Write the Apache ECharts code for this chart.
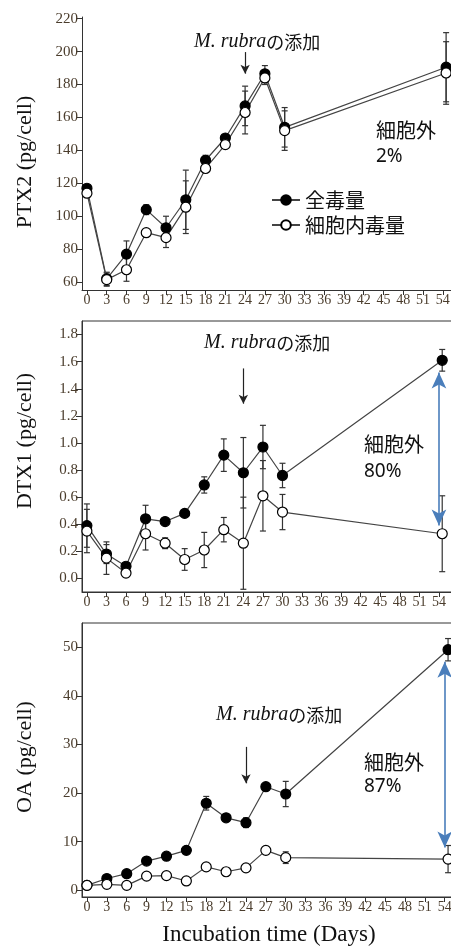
<!DOCTYPE html>
<html><head><meta charset="utf-8">
<script src="https://cdn.jsdelivr.net/npm/echarts@6/dist/echarts.min.js"></script>
<style>html,body{margin:0;padding:0;background:#fff}#c{width:451px;height:947px}</style>
</head><body><div id="c"></div>
<script>
const days = [0, 3, 6, 9, 12, 15, 18, 21, 24, 27, 30, 54.5];
const xTickValues = [0,3,6,9,12,15,18,21,24,27,30,33,36,39,42,45,48,51,54];

const ptx2Total    = [117, 62, 77, 104, 93, 110, 134, 147.5, 167, 186.5, 154, 190.5];
const ptx2TotalErr = [1, 4, 8, 3, 7, 18, 3, 2, 12, 5, 12, 21];
const ptx2Intra    = [114, 61.5, 67.5, 90, 87, 105.5, 129, 143.5, 163, 184, 152, 187];
const ptx2IntraErr = [1, 4, 7, 1, 6, 16, 2, 2, 13, 4, 12, 19];
const ptx2Ticks = [60, 80, 100, 120, 140, 160, 180, 200, 220];

const dtx1Total    = [0.39, 0.18, 0.09, 0.44, 0.42, 0.48, 0.69, 0.91, 0.78, 0.97, 0.76, 1.61];
const dtx1TotalErr = [0.16, 0.07, 0.02, 0.10, 0.0, 0.0, 0.06, 0.12, 0.26, 0.16, 0.09, 0.08];
const dtx1Intra    = [0.35, 0.15, 0.04, 0.33, 0.26, 0.14, 0.21, 0.36, 0.26, 0.61, 0.49, 0.33];
const dtx1IntraErr = [0.16, 0.12, 0.02, 0.12, 0.04, 0.08, 0.13, 0.09, 0.34, 0.26, 0.13, 0.28];
const dtx1Ticks = [0, 0.2, 0.4, 0.6, 0.8, 1.0, 1.2, 1.4, 1.6, 1.8];

const oaTotal    = [1.0, 2.4, 3.4, 6.0, 7.0, 8.2, 17.9, 14.9, 13.9, 21.3, 19.8, 49.5];
const oaTotalErr = [0.5, 0.5, 0.5, 0.6, 0.6, 0.5, 1.4, 0.6, 1.0, 0.5, 2.6, 2.3];
const oaIntra    = [1.0, 1.2, 1.0, 2.9, 3.0, 1.9, 4.8, 3.8, 4.6, 8.2, 6.7, 6.4];
const oaIntraErr = [0.8, 0.4, 0.5, 0.5, 0.5, 0.4, 0.5, 0.8, 0.5, 0.8, 1.2, 2.8];
const oaTicks = [0, 10, 20, 30, 40, 50];

const seriesNames = ['全毒量', '細胞内毒量'];

const chart = echarts.init(document.getElementById('c'));
const AX = '#333';
const LBL = '#4a3c2c';
const SERIF = 'Liberation Serif';
const CJK = 'Noto Sans CJK JP';

const grids = [
  {left: 82, top: 17, width: 374, bottom: 657, show: false, outerBoundsMode: 'none', containLabel: false},
  {left: 82, top: 321, width: 370, bottom: 355, show: true, borderColor: AX, borderWidth: 1, outerBoundsMode: 'none', containLabel: false},
  {left: 82, top: 623, width: 376, bottom: 50, show: true, borderColor: AX, borderWidth: 1, outerBoundsMode: 'none', containLabel: false}
];

function xAxis(i) {
  return {
    type: 'value', gridIndex: i, min: -0.75, max: 56,
    axisLine: {show: true, onZero: false, lineStyle: {color: AX, width: 1}},
    axisTick: {show: true, customValues: xTickValues, length: 5, lineStyle: {color: AX}},
    axisLabel: {customValues: xTickValues, fontFamily: SERIF, fontSize: 14, color: LBL, margin: 3},
    splitLine: {show: false}
  };
}
function yAxis(i, min, max, ticks, fmt) {
  return {
    type: 'value', gridIndex: i, min: min, max: max,
    axisLine: {show: true, onZero: false, lineStyle: {color: AX, width: 1}},
    axisTick: {show: true, customValues: ticks, length: 6, lineStyle: {color: AX}},
    axisLabel: {customValues: ticks, fontFamily: SERIF, fontSize: 15, color: LBL, margin: 4, formatter: fmt},
    splitLine: {show: false}
  };
}

function errSeries(i, vals, errs) {
  return {
    type: 'custom', xAxisIndex: i, yAxisIndex: i, z: 1, silent: true, clip: false,
    data: days.map((d, k) => [d, vals[k], errs[k]]),
    renderItem: function (params, api) {
      const x = api.value(0), y = api.value(1), e = api.value(2);
      if (!e) return null;
      const p1 = api.coord([x, y + e]);
      const p2 = api.coord([x, y - e]);
      const st = {stroke: '#333', lineWidth: 1.2};
      return {type: 'group', children: [
        {type: 'line', shape: {x1: p1[0], y1: p1[1], x2: p2[0], y2: p2[1]}, style: st},
        {type: 'line', shape: {x1: p1[0] - 3, y1: p1[1], x2: p1[0] + 3, y2: p1[1]}, style: st},
        {type: 'line', shape: {x1: p2[0] - 3, y1: p2[1], x2: p2[0] + 3, y2: p2[1]}, style: st}
      ]};
    }
  };
}
function lineSeries(i, name, vals, filled, extra) {
  const s = {
    type: 'line', name: name, xAxisIndex: i, yAxisIndex: i, z: 3,
    data: days.map((d, k) => [d, vals[k]]),
    symbol: 'circle', symbolSize: 10, showSymbol: true,
    lineStyle: {color: '#444', width: 1.2},
    itemStyle: {color: filled ? '#000' : '#fff', borderColor: '#000', borderWidth: 1.2},
    emphasis: {disabled: true}, animation: false
  };
  return Object.assign(s, extra || {});
}
function downArrow(x, y1, y2) {
  return {
    silent: true, symbol: ['none', 'arrow'], symbolSize: [7, 9],
    lineStyle: {color: '#222', width: 1.2, type: 'solid'}, label: {show: false},
    data: [[{coord: [x, y1]}, {coord: [x, y2]}]]
  };
}
function blueArrow(x, y1, y2) {
  return {
    silent: true, symbol: ['arrow', 'arrow'], symbolSize: [11, 16],
    lineStyle: {color: '#4a7ebb', width: 1.6, type: 'solid'}, label: {show: false},
    data: [[{coord: [x, y1]}, {coord: [x, y2]}]]
  };
}

function annot(x, y, pctY, pct) {
  return [
    {type: 'text', x: x, y: y, style: {text: '細胞外', font: '20px "Noto Sans CJK JP"', fill: '#111', verticalAlign: 'middle'}},
    {type: 'text', x: x, y: pctY, style: {text: pct, font: '19px "Noto Sans"', fill: '#111', verticalAlign: 'middle'}}
  ];
}
function rubra(x, y) {
  return {type: 'text', x: x, y: y, style: {
    text: '{a|M. rubra}{b|の添加}', verticalAlign: 'middle',
    rich: {
      a: {fontFamily: SERIF, fontStyle: 'italic', fontSize: 20, fill: '#111', color: '#111'},
      b: {fontFamily: CJK, fontSize: 18, fill: '#111', color: '#111'}
    }
  }};
}
function yName(text, y) {
  return {type: 'text', x: 25, y: y, rotation: Math.PI / 2, style: {
    text: text, font: '22px "Liberation Serif"', fill: '#111', align: 'center', verticalAlign: 'middle'}};
}

const option = {
  animation: false,
  backgroundColor: '#fff',
  grid: grids,
  xAxis: [xAxis(0), xAxis(1), xAxis(2)],
  yAxis: [
    yAxis(0, 55.2, 221, ptx2Ticks),
    yAxis(1, -0.1, 1.9, dtx1Ticks, v => v.toFixed(1)),
    yAxis(2, -1.4, 55, oaTicks)
  ],
  legend: {
    data: seriesNames, orient: 'vertical', left: 266, top: 185,
    itemWidth: 28, itemHeight: 12, itemGap: 5,
    textStyle: {fontFamily: CJK, fontSize: 20, color: '#111'},
    selectedMode: false
  },
  series: [
    errSeries(0, ptx2Total, ptx2TotalErr),
    errSeries(0, ptx2Intra, ptx2IntraErr),
    lineSeries(0, seriesNames[0], ptx2Total, true, {markLine: downArrow(24, 199.7, 186.6)}),
    lineSeries(0, seriesNames[1], ptx2Intra, false),

    errSeries(1, dtx1Total, dtx1TotalErr),
    errSeries(1, dtx1Intra, dtx1IntraErr),
    lineSeries(1, seriesNames[0], dtx1Total, true, {markLine: downArrow(24, 1.55, 1.29)}),
    lineSeries(1, seriesNames[1], dtx1Intra, false, {markLine: blueArrow(54, 1.52, 0.39)}),

    errSeries(2, oaTotal, oaTotalErr),
    errSeries(2, oaIntra, oaIntraErr),
    lineSeries(2, seriesNames[0], oaTotal, true, {markLine: downArrow(24, 29.5, 22.0)}),
    lineSeries(2, seriesNames[1], oaIntra, false, {markLine: blueArrow(54, 47.0, 8.8)})
  ],
  graphic: [
    rubra(194, 42), rubra(204, 343), rubra(216, 715),
    ...annot(376, 130, 157, '2%'),
    ...annot(364, 444, 472, '80%'),
    ...annot(364, 762, 787, '87%'),
    yName('PTX2 (pg/cell)', 162),
    yName('DTX1 (pg/cell)', 441),
    yName('OA (pg/cell)', 757),
    {type: 'text', x: 269, y: 935, style: {text: 'Incubation time (Days)', font: '23px "Liberation Serif"', fill: '#111', align: 'center', verticalAlign: 'middle'}}
  ]
};
chart.setOption(option);
</script>
</body></html>
